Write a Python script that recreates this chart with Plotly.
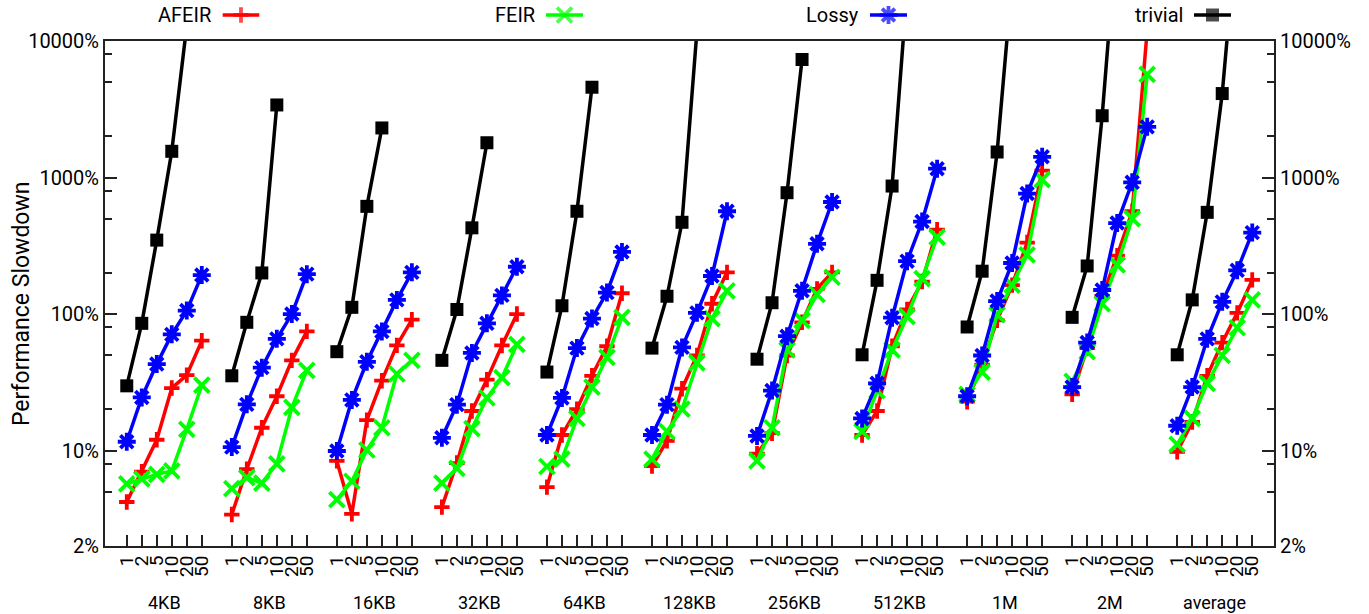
import math
import plotly.graph_objects as go

# ---------------- data ----------------
groups = ["4KB", "8KB", "16KB", "32KB", "64KB", "128KB", "256KB", "512KB", "1M", "2M", "average"]
ratios = ["1", "2", "5", "10", "20", "50"]

afeir = [
    [4.2, 7.0, 12.0, 28.7, 35.7, 63.8],
    [3.4, 7.3, 14.7, 25.0, 45.8, 74.6],
    [8.4, 3.44, 16.7, 32.5, 59, 91],
    [3.85, 8.1, 19.5, 33.1, 58.9, 100],
    [5.4, 13.0, 20.1, 35.3, 58.1, 142],
    [7.7, 11.8, 28.4, 49.7, 119, 202],
    [9.5, 13.4, 49.7, 87, 153, 202],
    [13.0, 19.5, 58.1, 108, 173, 415],
    [22.8, 42.6, 90, 163, 334, 1125],
    [25.8, 56.3, 135, 268, 566, 12000],
    [9.8, 16.2, 35.3, 61.8, 102, 178],
]
feir = [
    [5.7, 6.2, 6.7, 7.1, 14.3, 30.2],
    [5.26, 6.34, 5.78, 8.0, 20.7, 38.7],
    [4.37, 5.96, 10.1, 14.7, 36.4, 45.8],
    [5.78, 7.4, 14.5, 24.3, 34.2, 60],
    [7.64, 8.67, 17.2, 29.2, 48.2, 94.6],
    [8.67, 13.8, 20.1, 43.9, 92.7, 148],
    [8.4, 14.7, 54.6, 90, 139, 186],
    [13.8, 27.5, 54.6, 95.7, 182, 366],
    [25.8, 37.6, 99, 163, 271, 964],
    [32.1, 53, 119, 229, 500, 5700],
    [11.1, 17.2, 31.1, 49.7, 79.4, 127],
]
lossy = [
    [11.6, 24.5, 43, 71, 106, 193],
    [10.6, 21.8, 40.5, 65.8, 100, 196],
    [9.93, 23.5, 44.7, 74.6, 127, 202],
    [12.4, 21.7, 51.9, 85.5, 137, 222],
    [13.0, 24.3, 56.3, 92.7, 143.6, 285],
    [13.0, 21.7, 57, 102, 190, 566],
    [12.8, 27.5, 68.8, 148, 327, 662],
    [17.2, 31.1, 94, 244, 476, 1161],
    [25.0, 49.7, 124.5, 236.6, 763, 1419],
    [29.2, 61.8, 150, 464, 922, 2350],
    [15.2, 29.2, 65.8, 122.8, 209, 395],
]
trivial = [
    [29.8, 85.5, 348, 1556, 13000, None],
    [35.3, 87, 200, 3400, None, None],
    [53, 112, 615, 2307, None, None],
    [45.8, 108, 428, 1798, None, None],
    [37.6, 115, 566, 4585, None, None],
    [56.3, 135, 470, 12000, None, None],
    [46.7, 121, 774, 7320, None, None],
    [50.3, 176.6, 866, 24000, None, None],
    [80.4, 206, 1538, 28000, None, None],
    [94.6, 225, 2835, 66000, None, None],
    [50.3, 127, 556, 4121, 71000, None],
]

major_ticks = [2, 10, 100, 1000, 10000]
major_text = ["2%", "10%", "100%", "1000%", "10000%"]
minor_ticks = [5, 8, 20, 50, 80, 200, 500, 800, 2000, 5000, 8000]

# ---------------- layout constants ----------------
W, H = 1369, 614
PL, PR, PT, PB = 105, 1274, 41, 546
FONT = "Roboto"
AXC = "#222222"
SLOT = 7  # 6 points + 1 gap per group

series = [
    ("AFEIR", afeir, "#ff0000", "cross-thin", 11),
    ("FEIR", feir, "#00ff00", "x-thin", 15),
    ("Lossy", lossy, "#0000ff", "asterisk", 15),
    ("trivial", trivial, "#000000", "square", 13),
]


def build(data):
    xs, ys = [], []
    for g, vals in enumerate(data):
        for i, v in enumerate(vals):
            xs.append(SLOT * g + i)
            ys.append(v)
        xs.append(None)
        ys.append(None)
    return xs, ys


fig = go.Figure()
for name, data, color, sym, size in series:
    xs, ys = build(data)
    filled = sym == "square"
    fig.add_trace(go.Scatter(
        x=xs, y=ys, mode="lines+markers", name=name, showlegend=False,
        connectgaps=False,
        line=dict(color=color, width=3.5),
        marker=dict(symbol=sym, size=size, color=color,
                    line=dict(color=color, width=0 if filled else 3.8)),
        xaxis="x", yaxis="y",
    ))

# invisible trace to carry the right-hand axis
fig.add_trace(go.Scatter(x=[0], y=[10], mode="markers", marker=dict(opacity=0),
                         showlegend=False, hoverinfo="skip", xaxis="x", yaxis="y2"))

# legend (gnuplot style: text then sample)
leg_pos = [(213, 222.7, 259.3), (537, 546, 583), (861, 870, 907), (1185, 1194, 1231)]
for (name, data, color, sym, size), (tx, l0, l1) in zip(series, leg_pos):
    filled = sym == "square"
    fig.add_trace(go.Scatter(
        x=[l0, (l0 + l1) / 2, l1], y=[0.5, 0.5, 0.5], mode="lines+markers",
        showlegend=False, hoverinfo="skip",
        line=dict(color=color, width=3.5),
        marker=dict(symbol=sym, size=[0, size, 0], color=color,
                    line=dict(color=color, width=0 if filled else 3.8)),
        xaxis="x3", yaxis="y3",
    ))
    fig.add_annotation(x=tx / W, y=1 - 15 / H, xref="paper", yref="paper",
                       text=name, showarrow=False, xanchor="right", yanchor="middle",
                       font=dict(family=FONT, size=20, color="black"))

# group labels
for g, name in enumerate(groups):
    fig.add_annotation(x=SLOT * g + 2.5, y=1 - 602 / H, xref="x", yref="paper",
                       text=name, showarrow=False, xanchor="center", yanchor="middle",
                       font=dict(family=FONT, size=18, color="black"))

# y title
fig.add_annotation(x=21 / W, y=1 - 304 / H, xref="paper", yref="paper",
                   text="Performance Slowdown", textangle=-90, showarrow=False,
                   xanchor="center", yanchor="middle",
                   font=dict(family=FONT, size=23, color="black"))

xvals = [SLOT * g + i for g in range(len(groups)) for i in range(len(ratios))]
xtext = [r for g in range(len(groups)) for r in ratios]

yaxis_common = dict(
    type="log", range=[math.log10(2), 4],
    tickmode="array", tickvals=major_ticks, ticktext=major_text,
    ticks="inside", ticklen=12, tickwidth=1.5, tickcolor=AXC,
    minor=dict(tickmode="array", tickvals=minor_ticks, ticks="inside",
               ticklen=7, tickwidth=1.5, tickcolor=AXC, showgrid=False),
    showline=True, linecolor=AXC, linewidth=2,
    showgrid=False, zeroline=False, automargin=False,
    tickfont=dict(family=FONT, size=20, color="black"),
    domain=[1 - PB / H, 1 - PT / H],
)

fig.update_layout(
    width=W, height=H,
    margin=dict(l=0, r=0, t=0, b=0, pad=0, autoexpand=False),
    paper_bgcolor="white", plot_bgcolor="white",
    font=dict(family=FONT, color="black"),
    xaxis=dict(
        domain=[PL / W, PR / W], range=[-1.45, 76.45],
        tickmode="array", tickvals=xvals, ticktext=xtext, tickangle=-90,
        ticks="inside", ticklen=11, tickwidth=1.5, tickcolor=AXC,
        showline=True, linecolor=AXC, linewidth=2, mirror=True,
        showgrid=False, zeroline=False, automargin=False,
        tickfont=dict(family=FONT, size=19, color="black"),
        anchor="y",
    ),
    yaxis=dict(**yaxis_common, anchor="x"),
    yaxis2=dict(**yaxis_common, overlaying="y", side="right", anchor="x"),
    xaxis3=dict(domain=[0, 1], range=[0, W], visible=False, anchor="y3",
                fixedrange=True, automargin=False),
    yaxis3=dict(domain=[1 - 30 / H, 1], range=[0, 1], visible=False, anchor="x3",
                fixedrange=True, automargin=False),
    showlegend=False,
)

fig.write_html("out.html", config={"displayModeBar": False},
               post_script="document.body.style.margin='0';")
